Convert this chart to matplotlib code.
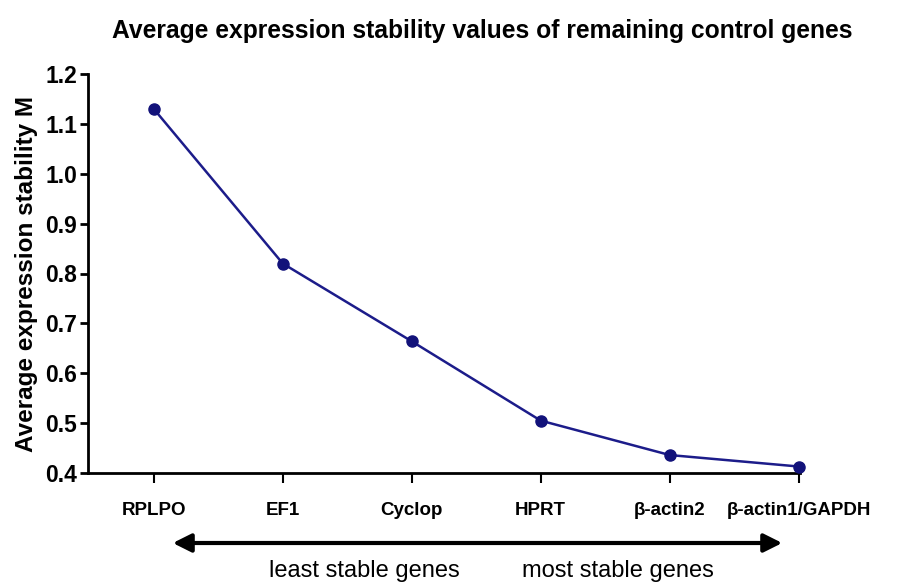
import matplotlib
matplotlib.use("Agg")
import matplotlib.pyplot as plt
from matplotlib import font_manager

genes = ["RPLPO", "EF1", "Cyclop", "HPRT", "β-actin2", "β-actin1/GAPDH"]
m_values = [1.13, 0.82, 0.664, 0.505, 0.436, 0.413]
y_ticks = [0.4, 0.5, 0.6, 0.7, 0.8, 0.9, 1.0, 1.1, 1.2]

plt.rcParams['font.family'] = ['Liberation Sans', 'DejaVu Sans']
names = {f.name for f in font_manager.fontManager.ttflist}
has_narrow = 'Liberation Sans Narrow' in names

fig = plt.figure(figsize=(9.01, 5.84), dpi=100)
ax = fig.add_axes([88/901, 1-473/584, (800-88)/901, (473-74)/584])

x = list(range(len(genes)))
ax.plot(x, m_values, color='#1c1c8a', lw=1.8, marker='o', ms=8,
        markerfacecolor='#12127a', markeredgecolor='#12127a', clip_on=False, zorder=3)

ax.set_xlim(-0.51, 5.01)
ax.set_ylim(0.4, 1.2)
ax.set_yticks(y_ticks)
ax.set_yticklabels([f"{v:.1f}" for v in y_ticks], fontsize=16.5, fontweight='bold')
ax.set_xticks(x)
ax.set_xticklabels(genes, fontsize=13.5, fontweight='bold')

for s in ['top', 'right']:
    ax.spines[s].set_visible(False)
for s in ['left', 'bottom']:
    ax.spines[s].set_linewidth(2)
ax.tick_params(axis='y', direction='out', length=6, width=2, pad=2)
ax.tick_params(axis='x', direction='out', length=7, width=1.5, pad=14)

ax.set_ylabel("Average expression stability M", fontsize=17.5, fontweight='bold', labelpad=5)
fig.text(482/901, 1-31/584, "Average expression stability values of remaining control genes",
         ha='center', va='center', fontsize=17.7, fontweight='bold')

ax.annotate('', xy=(785/901, 1-543/584), xytext=(170/901, 1-543/584),
            xycoords='figure fraction', textcoords='figure fraction',
            arrowprops=dict(arrowstyle='<|-|>,head_length=1.1,head_width=0.55', color='black', lw=3))

if has_narrow:
    bfam = ['Liberation Sans Narrow', 'DejaVu Sans']
    bsize = 20
else:
    bfam = ['Liberation Sans', 'DejaVu Sans']
    bsize = 17
fig.text(364/901, 1-571/584, "least stable genes", ha='center', va='center',
         fontsize=bsize, family=bfam)
fig.text(618/901, 1-571/584, "most stable genes", ha='center', va='center',
         fontsize=bsize, family=bfam)

fig.savefig("out.png", dpi=100)
